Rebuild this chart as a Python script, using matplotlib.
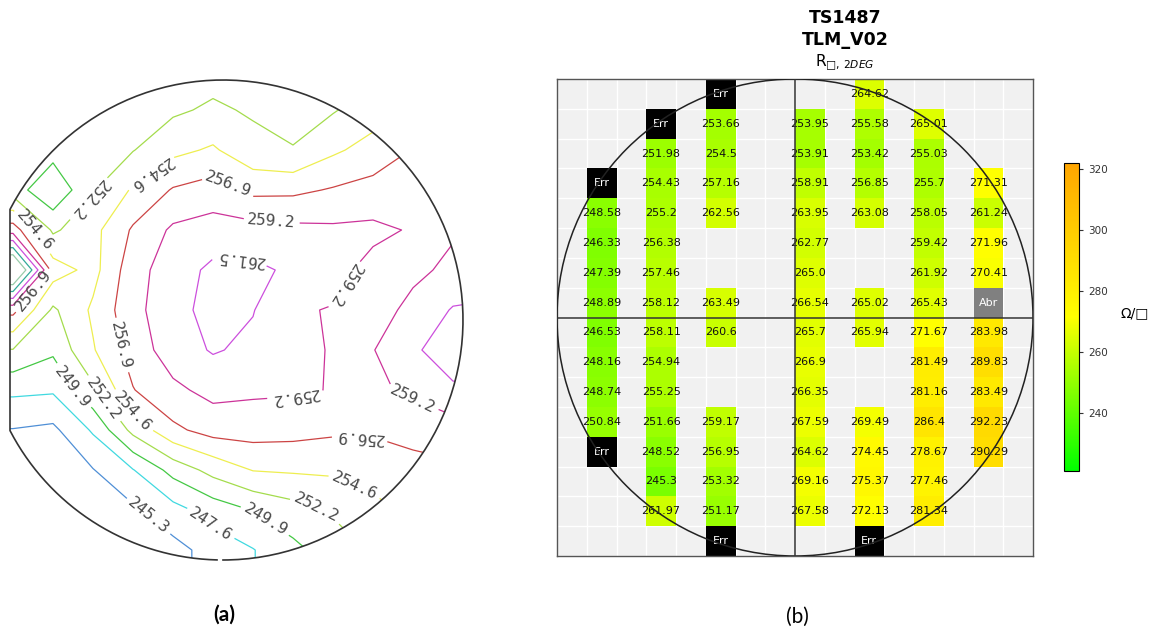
import numpy as np
import matplotlib
matplotlib.use("Agg")
import matplotlib.pyplot as plt
from matplotlib.colors import LinearSegmentedColormap, Normalize, ListedColormap
from matplotlib.patches import Polygon, Circle
from matplotlib.cm import ScalarMappable

# ---------------- (a) contour map: sheet resistance ----------------
# grid nodes (wafer units, radius 24, flat at x=-21.3)
grid_x = [-25, -21, -17, -13, -9, -5, -1, 3, 7, 11, 15, 19, 23, 27]
grid_y = [25, 21, 17, 13, 9, 5, 1, -3, -7, -11, -15, -19, -23, -27]

row_p25 = [250.5, 250.5, 250.5, 251.0, 251.0, 251.0, 251.2, 251.2, 251.2, 251.8, 253.0, 255.0, 257.0, 258.0]
row_p21 = [250.5, 250.5, 250.5, 251.0, 251.0, 251.8, 252.6, 251.9, 251.5, 252.0, 253.5, 256.0, 258.0, 258.0]
row_p17 = [250.8, 250.8, 250.8, 251.5, 252.1, 254.0, 254.9, 253.0, 252.3, 254.2, 255.5, 257.0, 258.0, 258.0]
row_p13 = [251.0, 251.0, 248.0, 252.0, 254.9, 257.1, 257.9, 256.3, 256.4, 257.1, 257.7, 258.3, 258.5, 258.5]
row_p09 = [258.1, 258.1, 251.8, 253.9, 257.2, 259.6, 260.2, 260.1, 259.8, 259.6, 259.7, 259.0, 259.0, 259.0]
row_p05 = [271.0, 271.0, 255.8, 253.8, 258.3, 260.4, 262.0, 262.0, 261.1, 259.9, 258.5, 258.8, 259.6, 260.0]
row_p01 = [257.6, 257.6, 251.8, 255.0, 258.5, 260.7, 262.3, 261.6, 259.4, 259.1, 258.4, 259.7, 261.7, 262.0]
row_m03 = [252.1, 252.1, 250.3, 254.4, 257.9, 260.4, 261.7, 261.0, 259.6, 259.1, 259.1, 261.3, 262.2, 262.5]
row_m07 = [248.1, 248.1, 247.9, 251.7, 256.8, 258.7, 259.9, 259.6, 259.5, 259.1, 258.8, 259.6, 261.3, 261.3]
row_m11 = [245.2, 245.2, 244.8, 247.9, 252.9, 256.4, 257.8, 257.9, 257.7, 257.3, 257.2, 257.8, 258.0, 258.0]
row_m15 = [243.5, 243.5, 244.3, 245.2, 247.5, 250.7, 253.0, 254.7, 254.9, 255.0, 255.5, 256.0, 256.5, 256.5]
row_m19 = [243.3, 243.3, 243.3, 243.6, 244.9, 246.8, 248.6, 250.0, 251.3, 252.5, 254.0, 255.0, 255.0, 255.0]
row_m23 = [243.3, 243.3, 243.3, 243.5, 243.8, 244.5, 246.2, 247.5, 249.3, 251.0, 252.5, 254.0, 254.5, 254.5]
row_m27 = [243.3, 243.3, 243.3, 243.5, 243.8, 244.5, 246.2, 247.5, 249.3, 251.0, 252.5, 254.0, 254.5, 254.5]

levels = [245.3, 247.6, 249.9, 252.2, 254.6, 256.9, 259.2, 261.5, 263.8, 266.1]
level_colors = ["#4f8fd6", "#40d9e0", "#44c844", "#a4dc4c", "#eeee50",
                "#cc4444", "#cc3399", "#cc4fdd", "#33aa99", "#99ccaa"]

# where the inline labels sit, and which ones read upside down
label_spots = [(1.7, 6.0), (4.9, 10.4), (12.2, 3.5), (7.3, -8.0), (19.0, -7.8),
               (0.4, 13.4), (-10.6, -2.6), (13.7, -11.7), (-19.0, 3.0),
               (-7.0, 14.4), (-9.1, -9.2), (13.2, -16.5), (-18.5, 9.2),
               (-13.5, 12.2), (-12.1, -8.0), (9.3, -19.0),
               (-14.8, -6.5), (4.3, -19.9), (-1.1, -20.2), (-7.1, -19.2)]
label_flip = [True, False, True, True, False,
              False, False, True, False,
              True, False, False, False,
              True, False, False,
              False, False, False, False]

# ---------------- (b) wafer map TS1487 / TLM_V02 ----------------
map_cols = [1, 3, 5, 8, 10, 12, 14]
col_01 = [None, None, None, "Err", 248.58, 246.33, 247.39, 248.89, 246.53, 248.16, 248.74, 250.84, "Err", None, None, None]
col_03 = [None, "Err", 251.98, 254.43, 255.2, 256.38, 257.46, 258.12, 258.11, 254.94, 255.25, 251.66, 248.52, 245.3, 261.97, None]
col_05 = ["Err", 253.66, 254.5, 257.16, 262.56, None, None, 263.49, 260.6, None, None, 259.17, 256.95, 253.32, 251.17, "Err"]
col_08 = [None, 253.95, 253.91, 258.91, 263.95, 262.77, 265.0, 266.54, 265.7, 266.9, 266.35, 267.59, 264.62, 269.16, 267.58, None]
col_10 = [264.62, 255.58, 253.42, 256.85, 263.08, None, None, 265.02, 265.94, None, None, 269.49, 274.45, 275.37, 272.13, "Err"]
col_12 = [None, 265.01, 255.03, 255.7, 258.05, 259.42, 261.92, 265.43, 271.67, 281.49, 281.16, 286.4, 278.67, 277.46, 281.34, None]
col_14 = [None, None, None, 271.31, 261.24, 271.96, 270.41, "Abr", 283.98, 289.83, 283.49, 292.23, 290.29, None, None, None]
cbar_ticks = [240, 260, 280, 300, 320]
vmin, vmax = 221, 322

W, H = 1158, 637
fig = plt.figure(figsize=(W / 100, H / 100), dpi=100)

# ---------------- panel (a) ----------------
ax1 = fig.add_axes([8 / W, (H - 562) / H, 457 / W, 484 / H])
ax1.set_xlim(-21.5, 24.2)
ax1.set_ylim(-24.2, 24.2)
ax1.axis("off")

R, xf = 24.0, -21.3
t0 = np.arccos(xf / R)
tt = np.linspace(t0, -t0, 400)
wafer = Polygon(np.column_stack([R * np.cos(tt), R * np.sin(tt)]), closed=True,
                fill=False, edgecolor="none")
ax1.add_patch(wafer)

Z = np.array([row_p25, row_p21, row_p17, row_p13, row_p09, row_p05, row_p01,
              row_m03, row_m07, row_m11, row_m15, row_m19, row_m23, row_m27])
X, Y = np.meshgrid(grid_x, grid_y)
cs = ax1.contour(X, Y, Z, levels=levels, colors=level_colors, linewidths=0.9)
cs.set_clip_path(wafer)
with plt.rc_context({"font.family": "DejaVu Sans Mono"}):
    ax1.clabel(cs, inline=True, fmt="%.1f", fontsize=11.5, colors="#4a4a4a",
               manual=label_spots, inline_spacing=4)
for txt, flip in zip(cs.labelTexts, label_flip):
    if flip:
        txt.set_rotation(txt.get_rotation() + 180)

# outline with notch gap at the bottom
ta = np.linspace(t0, -np.pi / 2, 200)
tb = np.linspace(-np.pi / 2 - 0.025, -t0, 100)
ox = np.concatenate([R * np.cos(tb), [xf, xf], R * np.cos(ta)])
oy = np.concatenate([R * np.sin(tb), [-R * np.sin(t0), R * np.sin(t0)], R * np.sin(ta)])
ax1.plot(ox, oy, color="#333333", lw=1.2)

# ---------------- panel (b) ----------------
cmap = LinearSegmentedColormap.from_list("gyo", ["#00ff00", "#ffff00", "#ffa500"])
norm = Normalize(vmin, vmax)

vals = np.full((16, 16), np.nan)
err = np.full((16, 16), np.nan)
abr = np.full((16, 16), np.nan)
labels = {}
for c, col in zip(map_cols, [col_01, col_03, col_05, col_08, col_10, col_12, col_14]):
    for r, v in enumerate(col):
        if v is None:
            continue
        labels[(r, c)] = str(v)
        if v == "Err":
            err[r, c] = 1
        elif v == "Abr":
            abr[r, c] = 1
        else:
            vals[r, c] = v

ax2 = fig.add_axes([557 / W, (H - 556) / H, 476 / W, 477 / H])
ax2.set_facecolor("#f1f1f1")
ax2.set_xlim(0, 16)
ax2.set_ylim(16, 0)
ax2.set_xticks(range(17))
ax2.set_yticks(range(17))
ax2.grid(True, color="white", lw=1.0, zorder=0)
ax2.tick_params(length=0, labelbottom=False, labelleft=False)
ax2.set_axisbelow(True)
for s in ax2.spines.values():
    s.set_color("#555555")
    s.set_linewidth(1.0)

edges = np.arange(17)
ax2.pcolormesh(edges, edges, np.ma.masked_invalid(vals), cmap=cmap, norm=norm, zorder=1)
ax2.pcolormesh(edges, edges, np.ma.masked_invalid(err), cmap=ListedColormap(["black"]), zorder=1)
ax2.pcolormesh(edges, edges, np.ma.masked_invalid(abr), cmap=ListedColormap(["#808080"]), zorder=1)

for (r, c), s in labels.items():
    tc = "white" if s in ("Err", "Abr") else "#111111"
    ax2.text(c + 0.5, r + 0.5, s, ha="center", va="center", fontsize=8, color=tc, zorder=2)

ax2.add_patch(Circle((8, 8), 8, fill=False, ec="#222222", lw=1.1, zorder=3))
ax2.axvline(8, color="#333333", lw=1.1, zorder=3)
ax2.axhline(8, color="#333333", lw=1.1, zorder=3)

cax = fig.add_axes([1064 / W, (H - 471) / H, 15 / W, 308 / H])
cb = fig.colorbar(ScalarMappable(norm=norm, cmap=cmap), cax=cax, ticks=cbar_ticks)
cb.ax.tick_params(labelsize=7.5, length=3, colors="#333333")
cb.outline.set_linewidth(0.8)
fig.text(1135 / W, 1 - 313 / H, "Ω/□", ha="center", va="center", fontsize=10)

fig.text(845 / W, 1 - 18 / H, "TS1487", ha="center", va="center", fontsize=12.5, weight="bold")
fig.text(845 / W, 1 - 40 / H, "TLM_V02", ha="center", va="center", fontsize=12.5, weight="bold")
fig.text(845 / W, 1 - 63 / H, "R$_{□,\\,2DEG}$", ha="center", va="center", fontsize=11)

fig.text(224 / W, 1 - 615 / H, "(a)", ha="center", va="center", fontsize=15,
         weight="bold", family=["Lato", "DejaVu Sans"])
fig.text(797 / W, 1 - 617 / H, "(b)", ha="center", va="center", fontsize=15,
         family=["Lato", "DejaVu Sans"])

fig.savefig("out.png", dpi=100, facecolor="white")
